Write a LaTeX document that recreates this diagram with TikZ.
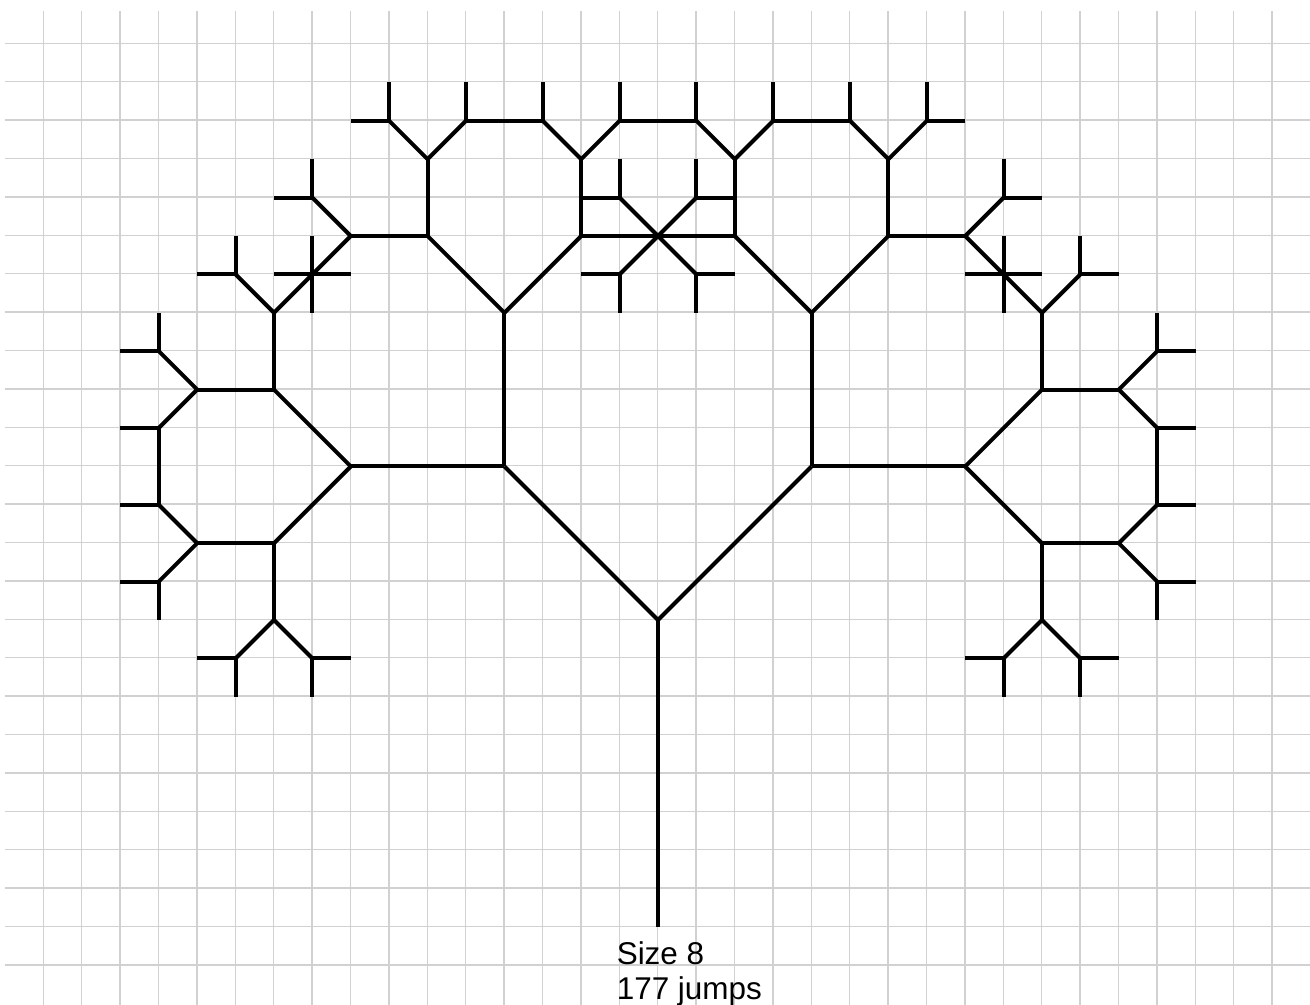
\documentclass[tikz,border=0pt]{standalone}
\usepackage{fontspec}
\setmainfont{Liberation Sans}
\newcommand\treebranch[3]{%
  \draw[treeline] (0,0) -- (#1:#2);%
  \ifnum#3>1\relax
    \pgfmathsetmacro\tbLen{#2/sqrt(2)}%
    \pgfmathtruncatemacro\tbDepth{#3-1}%
    \pgfmathsetmacro\tbA{#1+45}%
    \pgfmathsetmacro\tbB{#1-45}%
    \edef\tbNext{\noexpand\begin{scope}[shift={(#1:#2)}]\noexpand\treebranch{\tbA}{\tbLen}{\tbDepth}\noexpand\treebranch{\tbB}{\tbLen}{\tbDepth}\noexpand\end{scope}}%
    \tbNext
  \fi}
\begin{document}
\begin{tikzpicture}[x=0.75pt,y=-0.75pt,
  gridline/.style={draw=black!18, line width=1.1pt},
  treeline/.style={draw=black, line width=3pt, line cap=butt},
  caption/.style={anchor=base west, inner sep=0pt, align=left,
    font=\fontsize{23.6pt}{26.5pt}\selectfont}]
\useasboundingbox (0,0) rectangle (1310,1005);
\fill[white] (0,0) rectangle (1310,1005);
\foreach \k in {0,...,32} \draw[gridline] ({43.3+38.4*\k},11) -- ({43.3+38.4*\k},1005);
\foreach \k in {0,...,24} \draw[gridline] (5,{43.3+38.4*\k}) -- (1310,{43.3+38.4*\k});
\coordinate (root) at (658,927.2);
\coordinate (top) at (658,620);
\draw[treeline] (root) -- (top);
\begin{scope}[shift={(top)}]
  \treebranch{-45}{217.223}{6}
  \treebranch{-135}{217.223}{6}
\end{scope}
\node[caption] (label) at (616.5,999.6) {Size 8\\177 jumps};
\end{tikzpicture}
\end{document}
